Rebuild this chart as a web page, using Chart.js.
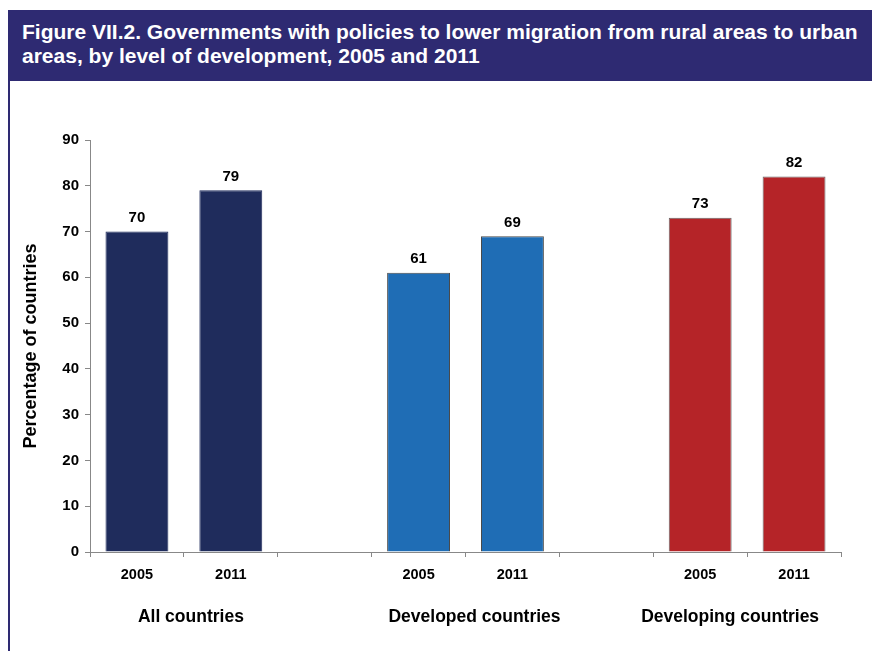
<!DOCTYPE html>
<html>
<head>
<meta charset="utf-8">
<script src="https://cdn.jsdelivr.net/npm/chart.js@4"></script>
<style>
    body { margin: 0; background: #fff; font-family: 'Liberation Sans', Arial, sans-serif; }
    #wrap { position: relative; width: 872px; height: 651px; overflow: hidden; }
    #header {
        position: absolute; left: 8px; top: 10px; width: 864px; height: 71px;
        background: #2e2a72; color: #fff; font-weight: bold; font-size: 21px;
        line-height: 24px; padding: 10px 0 0 14px; box-sizing: border-box;
    }
    #frame { position: absolute; left: 8px; top: 81px; width: 2px; height: 570px; background: #2e2a72; }
    #chartBox { position: absolute; left: 0; top: 0; width: 872px; height: 651px; }
</style>
</head>
<body>
<div id="wrap">
    <div id="chartBox"><canvas id="migrationChart"></canvas></div>
    <div id="header">Figure VII.2. Governments with policies to lower migration from rural areas to urban<br>areas, by level of development, 2005 and 2011</div>
    <div id="frame"></div>
</div>
<script>
// Chart data
const yearLabels = ['2005', '2011', '', '2005', '2011', '', '2005', '2011'];
const percentValues = [70, 79, null, 61, 69, null, 73, 82];
const groupNames = ['All countries', 'Developed countries', 'Developing countries'];
const groupSlots = [[0, 1], [3, 4], [6, 7]];
const yTicks = [0, 10, 20, 30, 40, 50, 60, 70, 80, 90];

const navy = '#1f2c5c';
const blue = '#1f6db5';
const red = '#b52428';
const barColors = [navy, navy, null, blue, blue, null, red, red];
const barBorders = [navy, navy, null, '#4a4a4a', '#4a4a4a', null, '#666', '#666'];
const fontFamily = "'Liberation Sans', Arial, sans-serif";

// value labels above bars + group labels under the axis
const labelPlugin = {
    id: 'labelPlugin',
    afterDatasetsDraw(chart) {
        const ctx = chart.ctx;
        const meta = chart.getDatasetMeta(0);
        ctx.save();
        ctx.fillStyle = '#000';
        ctx.textAlign = 'center';
        ctx.textBaseline = 'bottom';
        ctx.font = 'bold 15px ' + fontFamily;
        meta.data.forEach((bar, i) => {
            if (percentValues[i] == null) return;
            ctx.fillText(percentValues[i], bar.x, bar.y - 6);
        });
        const xs = chart.scales.x;
        const nudge = [7, 9, -17]; // the source labels sit a little off-centre
        ctx.font = 'bold 17.5px ' + fontFamily;
        ctx.textBaseline = 'middle';
        groupNames.forEach((name, g) => {
            const a = xs.getPixelForValue(groupSlots[g][0]);
            const b = xs.getPixelForValue(groupSlots[g][1]);
            ctx.fillText(name, (a + b) / 2 + nudge[g], chart.chartArea.bottom + 65);
        });
        ctx.restore();
    }
};

const ctx = document.getElementById('migrationChart').getContext('2d');
new Chart(ctx, {
    type: 'bar',
    data: {
        labels: yearLabels,
        datasets: [{
            data: percentValues,
            backgroundColor: barColors,
            borderColor: barBorders,
            borderWidth: 1,
            categoryPercentage: 1,
            barPercentage: 0.67
        }]
    },
    options: {
        responsive: true,
        maintainAspectRatio: false,
        animation: false,
        layout: {
            padding: { top: 140, right: 31, left: 0, bottom: 0 }
        },
        plugins: {
            legend: { display: false },
            tooltip: { enabled: false }
        },
        scales: {
            x: {
                afterFit: function(scale) { scale.height = 99; },
                grid: {
                    drawOnChartArea: false,
                    drawTicks: true,
                    tickLength: 5,
                    color: '#888'
                },
                border: { color: '#888', width: 1 },
                ticks: {
                    color: '#000',
                    padding: 9,
                    maxRotation: 0,
                    autoSkip: false,
                    font: { family: fontFamily, size: 14.5, weight: 'bold' }
                }
            },
            y: {
                min: 0,
                max: 90,
                afterFit: function(scale) { scale.width = 90; },
                afterBuildTicks: function(scale) {
                    scale.ticks = yTicks.map(v => ({ value: v }));
                },
                grid: {
                    drawOnChartArea: false,
                    drawTicks: true,
                    tickLength: 5,
                    color: '#888'
                },
                border: { color: '#888', width: 1 },
                ticks: {
                    color: '#000',
                    padding: 6,
                    font: { family: fontFamily, size: 15, weight: 'bold' }
                },
                title: {
                    display: true,
                    text: 'Percentage of countries',
                    color: '#000',
                    padding: { top: 20, bottom: 0 },
                    font: { family: fontFamily, size: 18, weight: 'bold' }
                }
            }
        }
    },
    plugins: [labelPlugin]
});
</script>
</body>
</html>
